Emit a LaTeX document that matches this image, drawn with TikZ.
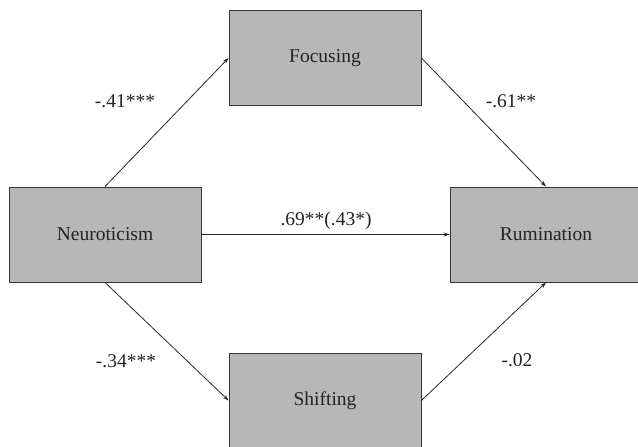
\documentclass[tikz,border=0pt]{standalone}
\usepackage{fontspec}
\setmainfont{Liberation Serif}
\usetikzlibrary{arrows.meta}
\definecolor{boxfill}{RGB}{183,183,183}
\definecolor{boxline}{RGB}{55,55,55}
\definecolor{txt}{RGB}{35,35,35}
\begin{document}
\begin{tikzpicture}[x=1pt,y=-1pt,
  var/.style={draw=boxline,fill=boxfill,line width=0.9pt,minimum width=192pt,minimum height=95pt,inner sep=0pt,text=txt,font=\fontsize{19.5}{23}\selectfont},
  coef/.style={text=txt,font=\fontsize{19.5}{23}\selectfont,inner sep=0pt},
  path/.style={draw=black!85,line width=0.8pt,-{Stealth[length=6pt,width=4pt]}}]
\useasboundingbox (0,0) rectangle (638,447);
\clip (0,0) rectangle (638,447);
\node[var] (foc) at (325,58) {Focusing};
\node[var] (neu) at (105,234.5) {Neuroticism};
\node[var] (rum) at (546,234.5) {Rumination};
\node[var] (shi) at (325,400.5) {Shifting};
\draw[path] (neu.north) -- (foc.west);
\draw[path] (foc.east) -- (rum.north);
\draw[path] (neu.east) -- (rum.west);
\draw[path] (neu.south) -- (shi.west);
\draw[path] (shi.east) -- (rum.south);
\node[coef] (l1) at (125,101) {-.41***};
\node[coef] (l2) at (511,101) {-.61**};
\node[coef] (l3) at (326,221) {.69**(.43*)};
\node[coef] (l4) at (126,361) {-.34***};
\node[coef] (l5) at (517,360) {-.02};
\end{tikzpicture}
\end{document}
